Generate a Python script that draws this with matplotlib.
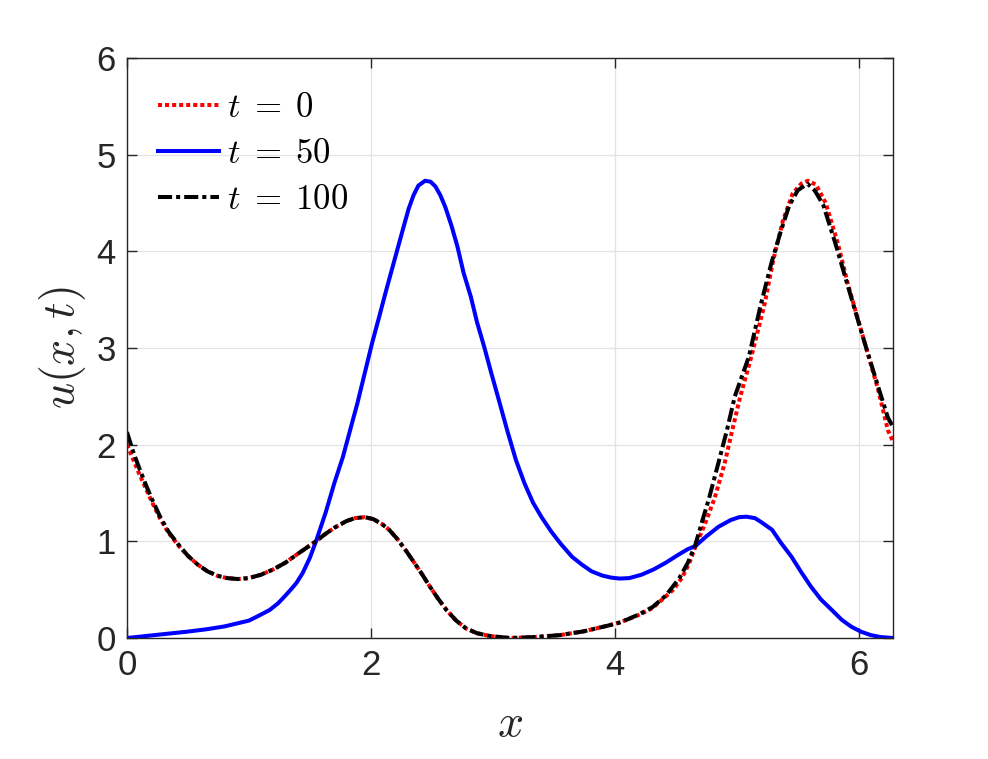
import numpy as np
import matplotlib
matplotlib.use("Agg")
import matplotlib.pyplot as plt

# values
x_t0 = [0.00, 0.05, 0.10, 0.15, 0.20, 0.27, 0.34, 0.42, 0.50, 0.58, 0.66, 0.74,
        0.82, 0.91, 1.00, 1.10, 1.20, 1.30, 1.40, 1.48, 1.55, 1.62, 1.70, 1.80,
        1.87, 1.95, 2.02, 2.09, 2.15, 2.22, 2.29, 2.35, 2.42, 2.48, 2.55, 2.62,
        2.70, 2.78, 2.87, 2.98, 3.14, 3.35, 3.55, 3.75, 3.95, 4.04, 4.10, 4.20,
        4.31, 4.40, 4.48, 4.55, 4.61, 4.66, 4.74, 4.82, 4.90, 4.96, 5.03, 5.12,
        5.23, 5.30, 5.38, 5.46, 5.53, 5.585, 5.65, 5.73, 5.83, 5.91, 5.98, 6.06,
        6.16, 6.24, 6.283]
u_t0 = [2.00, 1.85, 1.70, 1.56, 1.42, 1.24, 1.09, 0.96, 0.85, 0.76, 0.69, 0.645,
        0.62, 0.61, 0.62, 0.655, 0.71, 0.78, 0.87, 0.94, 1.00, 1.07, 1.14, 1.21,
        1.24, 1.25, 1.23, 1.18, 1.12, 1.02, 0.90, 0.79, 0.66, 0.54, 0.41, 0.29,
        0.18, 0.10, 0.05, 0.02, 0.00, 0.01, 0.03, 0.07, 0.13, 0.16, 0.19, 0.24,
        0.31, 0.41, 0.50, 0.62, 0.77, 0.94, 1.18, 1.45, 1.80, 2.13, 2.50, 2.91,
        3.46, 3.91, 4.32, 4.60, 4.70, 4.73, 4.69, 4.50, 4.08, 3.67, 3.36, 3.01,
        2.57, 2.15, 2.03]

x_t50 = [0.00, 0.15, 0.30, 0.49, 0.65, 0.80, 0.90, 1.00, 1.08, 1.17, 1.24, 1.30,
         1.35, 1.39, 1.44, 1.50, 1.55, 1.63, 1.70, 1.77, 1.83, 1.89, 1.95, 2.01,
         2.07, 2.12, 2.17, 2.22, 2.27, 2.31, 2.35, 2.39, 2.445, 2.49, 2.53, 2.57,
         2.61, 2.66, 2.71, 2.76, 2.82, 2.87, 2.93, 2.99, 3.05, 3.12, 3.19, 3.26,
         3.33, 3.40, 3.48, 3.56, 3.65, 3.73, 3.81, 3.90, 3.97, 4.04, 4.12, 4.22,
         4.32, 4.42, 4.52, 4.60, 4.66, 4.75, 4.85, 4.95, 5.02, 5.08, 5.15, 5.20,
         5.29, 5.36, 5.45, 5.53, 5.61, 5.69, 5.78, 5.86, 5.94, 6.02, 6.10, 6.18,
         6.283]
u_t50 = [0.00, 0.02, 0.04, 0.065, 0.09, 0.12, 0.15, 0.18, 0.23, 0.29, 0.36, 0.44,
         0.51, 0.57, 0.67, 0.83, 1.00, 1.30, 1.60, 1.87, 2.15, 2.43, 2.74, 3.05,
         3.33, 3.57, 3.80, 4.03, 4.26, 4.44, 4.58, 4.68, 4.73, 4.72, 4.67, 4.58,
         4.46, 4.27, 4.05, 3.78, 3.53, 3.27, 3.01, 2.73, 2.46, 2.14, 1.84, 1.60,
         1.40, 1.25, 1.10, 0.97, 0.84, 0.76, 0.69, 0.645, 0.625, 0.615, 0.62, 0.655,
         0.71, 0.78, 0.86, 0.92, 0.95, 1.05, 1.15, 1.22, 1.25, 1.255, 1.24, 1.20,
         1.12, 0.99, 0.84, 0.68, 0.53, 0.40, 0.29, 0.19, 0.117, 0.065, 0.03, 0.01,
         0.00]

x_t100 = [0.00, 0.05, 0.10, 0.15, 0.20, 0.27, 0.34, 0.42, 0.50, 0.58, 0.66, 0.74,
          0.82, 0.91, 1.00, 1.10, 1.20, 1.30, 1.40, 1.48, 1.55, 1.62, 1.70, 1.80,
          1.87, 1.95, 2.02, 2.09, 2.15, 2.22, 2.29, 2.35, 2.42, 2.48, 2.55, 2.62,
          2.70, 2.78, 2.87, 2.98, 3.14, 3.35, 3.55, 3.75, 3.95, 4.04, 4.10, 4.20,
          4.31, 4.42, 4.53, 4.60, 4.66, 4.72, 4.77, 4.81, 4.85, 4.92, 4.985, 5.10,
          5.20, 5.285, 5.36, 5.43, 5.50, 5.58, 5.64, 5.71, 5.81, 5.905, 5.98, 6.06,
          6.16, 6.24, 6.283]
u_t100 = [2.13, 1.93, 1.76, 1.60, 1.45, 1.26, 1.10, 0.97, 0.85, 0.76, 0.69, 0.645,
          0.62, 0.61, 0.62, 0.655, 0.71, 0.78, 0.87, 0.94, 1.00, 1.07, 1.14, 1.21,
          1.24, 1.25, 1.23, 1.18, 1.12, 1.02, 0.90, 0.79, 0.66, 0.54, 0.41, 0.29,
          0.18, 0.10, 0.05, 0.02, 0.00, 0.01, 0.03, 0.07, 0.13, 0.16, 0.19, 0.245,
          0.32, 0.44, 0.62, 0.78, 0.96, 1.22, 1.43, 1.62, 1.81, 2.15, 2.50, 2.91,
          3.46, 3.88, 4.20, 4.47, 4.63, 4.70, 4.63, 4.48, 4.08, 3.67, 3.35, 3.01,
          2.60, 2.28, 2.18]

plt.rcParams['mathtext.fontset'] = 'cm'
plt.rcParams['font.family'] = ['Liberation Sans', 'DejaVu Sans']

fig = plt.figure(figsize=(9.88, 7.59), dpi=100)
ax = fig.add_axes([0.1285, 0.1594, 0.7755, 0.7642])

ax.plot(x_t0, u_t0, color='red', lw=2.9, linestyle=(0, (1, 0.75)), label=r'$t\;=\;0$')
ax.plot(x_t50, u_t50, color='blue', lw=2.9, label=r'$t\;=\;50$')
ax.plot(x_t100, u_t100, color='black', lw=2.9, linestyle=(0, (3.5, 1, 1, 1)),
        label=r'$t\;=\;100$')

ax.set_xlim(0, 2 * np.pi)
ax.set_ylim(0, 6)
ax.set_xticks([0, 2, 4, 6])
ax.set_yticks([0, 1, 2, 3, 4, 5, 6])
ax.grid(True, color='#e3e3e3', lw=0.9)
ax.set_axisbelow(True)
ax.tick_params(direction='in', length=7, width=1, colors='#262626',
               labelsize=25, top=True, right=True, pad=8)
for s in ax.spines.values():
    s.set_color('#262626')
    s.set_linewidth(1)

ax.set_xlabel(r'$x$', fontsize=33, color='#262626', labelpad=14)
ax.set_ylabel(r'$u(x,t)$', fontsize=33, color='#262626', labelpad=6)

ax.legend(loc='upper left', frameon=False, fontsize=25, handlelength=1.75,
          handletextpad=0.22, labelspacing=0.38, borderaxespad=0.5,
          bbox_to_anchor=(0.0, 0.997))

fig.savefig('out.png', dpi=100)
